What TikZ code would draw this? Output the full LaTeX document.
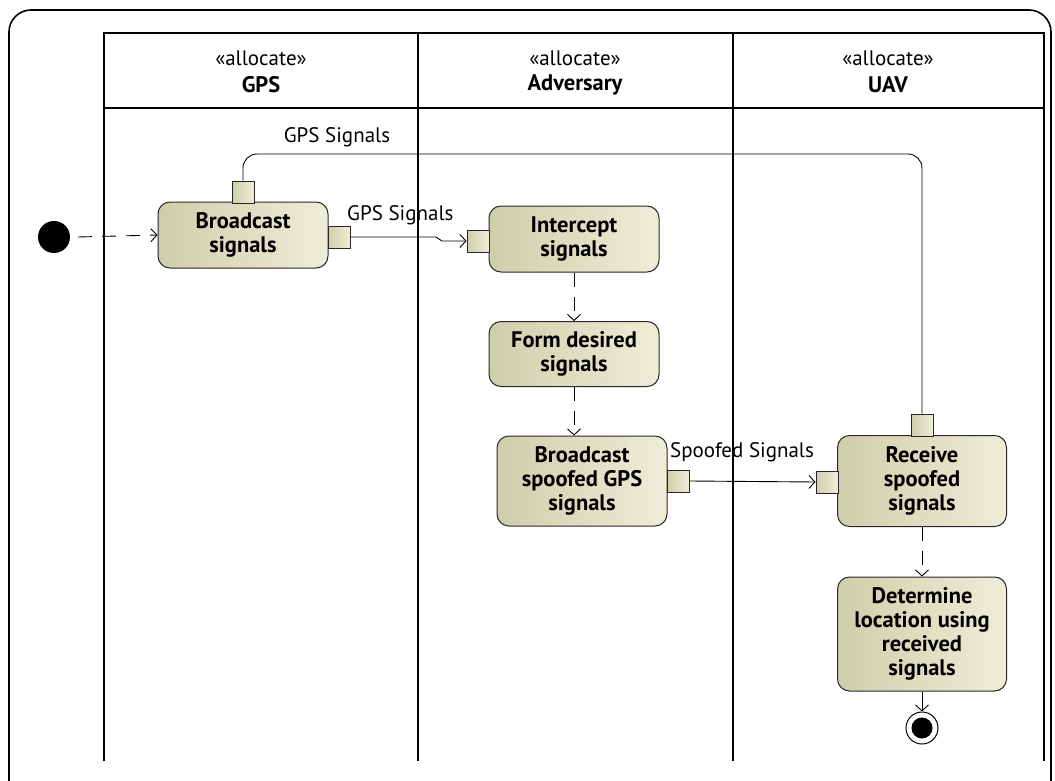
\documentclass[tikz,border=0pt]{standalone}
\usepackage{fontspec}
\setmainfont{PT Sans}
\usetikzlibrary{arrows.meta,shapes.geometric}
\definecolor{actL}{RGB}{207,206,170}
\definecolor{actR}{RGB}{238,237,216}
\definecolor{edgec}{RGB}{40,40,40}
\tikzset{
  action/.style={draw=edgec, line width=1pt, rounded corners=12pt, left color=actL, right color=actR,
    minimum width=170pt, align=center, font=\fontsize{22.5}{24}\selectfont\bfseries, inner sep=2pt},
  pin/.style={draw=edgec, line width=1pt, left color=actL, right color=actR, minimum width=22pt, minimum height=22pt, inner sep=0pt},
  lane/.style={line width=2pt, black},
  flowline/.style={line width=0.9pt, -{Straight Barb[length=6pt,width=13pt,line width=0.9pt]}},
  ctrl/.style={flowline, dash pattern=on 14pt off 10pt},
  objflow/.style={line width=0.9pt},
  lbl/.style={font=\fontsize{21}{24}\selectfont, inner sep=0pt},
  hdrA/.style={font=\fontsize{21}{24}\selectfont, inner sep=0pt},
  hdrB/.style={font=\fontsize{22.5}{24}\selectfont\bfseries, inner sep=0pt},
}
\begin{document}
\begin{tikzpicture}[x=1pt,y=-1pt]
\useasboundingbox (0,0) rectangle (1055,781);
\clip (0,0) rectangle (1055,781);
% outer frame
\draw[line width=1.6pt, rounded corners=22pt] (9,10) rectangle (1051,810);
% swimlanes
\draw[lane] (104,761) -- (104,33) -- (1044,33) -- (1044,761);
\draw[lane] (104,108) -- (1044,108);
\draw[lane] (418,33) -- (418,761);
\draw[lane] (733,33) -- (733,761);
% headers
\node[hdrA] (hA1) at (261,58) {«allocate»};
\node[hdrB] (hB1) at (261,85) {GPS};
\node[hdrA] (hA2) at (575,58) {«allocate»};
\node[hdrB] (hB2) at (575,85) {Adversary};
\node[hdrA] (hA3) at (888,58) {«allocate»};
\node[hdrB] (hB3) at (888,85) {UAV};
% actions
\node[action, minimum height=66pt] (bc) at (243,235) {Broadcast\\signals};
\node[action, minimum height=66pt] (ic) at (574,239) {Intercept\\signals};
\node[action, minimum height=65pt] (fd) at (574,354) {Form desired\\signals};
\node[action, minimum height=90pt] (bs) at (582,481) {Broadcast\\spoofed GPS\\signals};
\node[action, minimum height=91pt, minimum width=169pt] (rs) at (922,481) {Receive\\spoofed\\signals};
\node[action, minimum height=114pt, minimum width=169pt] (dl) at (922,634) {Determine\\location using\\received\\signals};
% pins
\node[pin] (bcT) at (243,192) {};
\node[pin] (bcR) at (339,237) {};
\node[pin] (icL) at (478,241) {};
\node[pin] (bsR) at (678,481) {};
\node[pin] (rsL) at (827,482) {};
\node[pin] (rsT) at (922,425) {};
% initial and final
\node[circle, fill=black, minimum size=32pt, inner sep=0pt] (init) at (54,237) {};
\node[circle, draw=black, line width=1pt, fill=white, minimum size=32pt, inner sep=0pt] (fin) at (922,728) {};
\node[circle, fill=black, minimum size=21pt, inner sep=0pt] (finI) at (922,728) {};
% control flows
\draw[ctrl] (init.east) ++(8,0) coordinate (initS) -- (bc.west);
\draw[ctrl] (ic.south) -- (fd.north);
\draw[ctrl] (fd.south) -- (fd.south |- bs.north);
\draw[ctrl] (rs.south) -- (dl.north);
\draw[flowline] (dl.south) -- (fin.north);
% object flows
\draw[objflow, rounded corners=14pt] (bcT.north) -- (243,154) -- (922,154) -- (rsT.north);
\node[lbl] (l1) at (337,137) {GPS Signals};
\draw[flowline] (bcR.east) -- (436,237) -- (442,241) -- (icL.west);
\node[lbl, anchor=west] (l2) at (347,215) {GPS Signals};
\draw[flowline] (bsR.east) -- (rsL.west);
\node[lbl, anchor=west] (l3) at (670,452) {Spoofed Signals};
\end{tikzpicture}
\end{document}
